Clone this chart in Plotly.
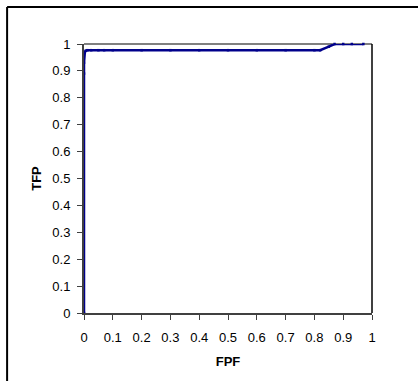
import plotly.graph_objects as go

fpf = [0, 0, 0.0, 0.003, 0.006, 0.012, 0.025, 0.05, 0.07, 0.1, 0.2, 0.3, 0.4, 0.5, 0.6, 0.7, 0.8, 0.82, 0.85, 0.87, 0.9, 0.93, 0.97]
tfp = [0, 0.89, 0.93, 0.97, 0.975, 0.977, 0.977, 0.977, 0.977, 0.977, 0.977, 0.977, 0.977, 0.977, 0.977, 0.977, 0.977, 0.977, 0.99, 1.0, 1.0, 1.0, 1.0]

x_ticks = [0, 0.1, 0.2, 0.3, 0.4, 0.5, 0.6, 0.7, 0.8, 0.9, 1]
x_labels = ["0", "0.1", "0.2", "0.3", "0.4", "0.5", "0.6", "0.7", "0.8", "0.9", "1"]
y_ticks = x_ticks
y_labels = x_labels

navy = "#00008B"

fig = go.Figure()
fig.add_trace(go.Scatter(
    x=fpf, y=tfp, mode="lines+markers",
    line=dict(color=navy, width=2.5),
    marker=dict(color=navy, size=2.5, symbol="square"),
    showlegend=False, cliponaxis=False,
))

font = dict(family="Liberation Sans, Arial, sans-serif", size=13, color="black")

fig.update_layout(
    width=418, height=381,
    margin=dict(l=84, r=46, t=44, b=68),
    paper_bgcolor="white", plot_bgcolor="white",
    font=font,
    xaxis=dict(
        range=[0, 1], tickvals=x_ticks, ticktext=x_labels,
        showgrid=False, zeroline=False,
        showline=True, linecolor="#404040", linewidth=2,
        ticks="outside", ticklen=5, tickwidth=1, tickcolor="#404040",
        ticklabelstandoff=6,
        title=dict(text="<b>FPF</b>", font=dict(size=13), standoff=13),
    ),
    yaxis=dict(
        range=[0, 1], tickvals=y_ticks, ticktext=y_labels,
        showgrid=False, zeroline=False,
        showline=True, linecolor="#404040", linewidth=2,
        ticks="outside", ticklen=5, tickwidth=1, tickcolor="#404040",
        ticklabelstandoff=4,
        title=dict(text="<b>TFP</b>", font=dict(size=13), standoff=8),
    ),
    shapes=[
        dict(type="line", xref="paper", yref="paper", x0=0, x1=1, y0=1, y1=1,
             line=dict(color="#808080", width=2), layer="below"),
        dict(type="line", xref="paper", yref="paper", x0=1, x1=1, y0=0, y1=1,
             line=dict(color="black", width=1.5), layer="below"),
        dict(type="line", xref="paper", yref="paper", x0=-0.267, x1=-0.267, y0=-0.3, y1=1.1375,
             line=dict(color="black", width=2)),
        dict(type="line", xref="paper", yref="paper", x0=-0.267, x1=1.3, y0=1.1375, y1=1.1375,
             line=dict(color="black", width=2)),
    ],
)

fig.write_html("out.html", config={"displayModeBar": False},
               post_script="document.body.style.margin='0';document.body.style.overflow='hidden';")
